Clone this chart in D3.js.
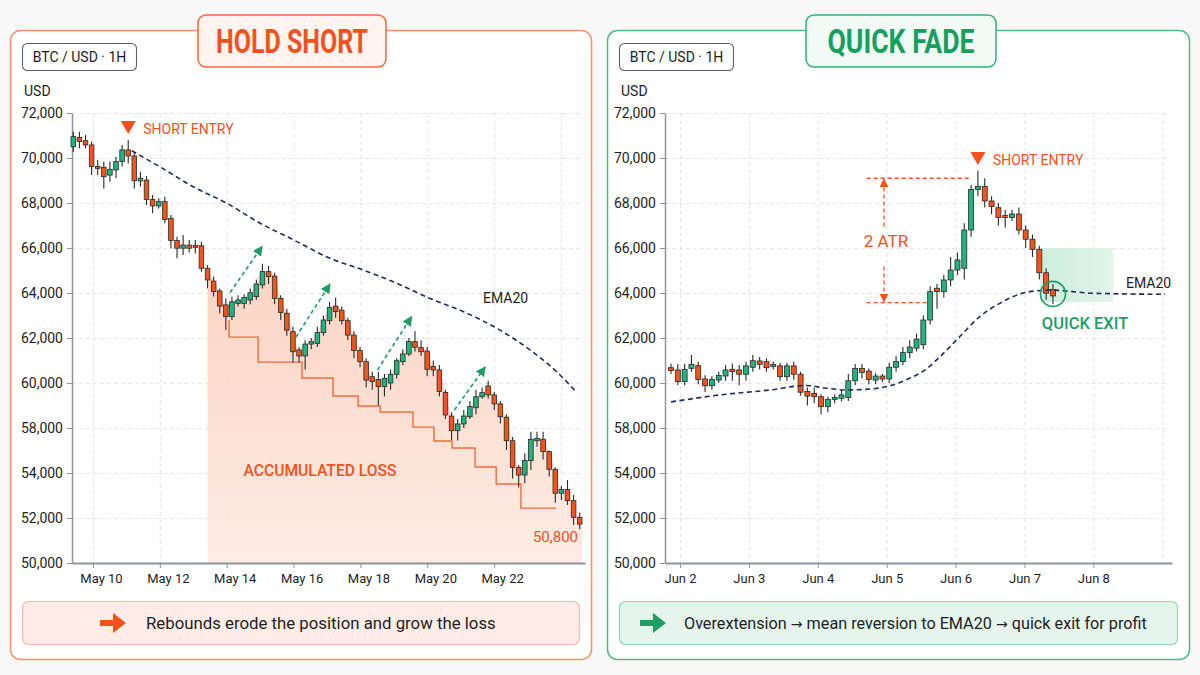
<!DOCTYPE html>
<html><head><meta charset="utf-8">
<script src="https://cdn.jsdelivr.net/npm/d3@7"></script>
<style>
html,body{margin:0;padding:0;background:#f8f8f8;}
svg{display:block;font-family:Roboto,"Noto Sans",sans-serif;}
</style></head><body>
<svg id="c" width="1200" height="675"></svg>
<script>
// ---------------- DATA ----------------
const yTickValues = [72000,70000,68000,66000,64000,62000,60000,58000,54000,52000,50000];
const leftTickDays = [10,12,14,16,18,20,22];
const leftTickLabels = ["May 10","May 12","May 14","May 16","May 18","May 20","May 22"];
const leftGridDays = [10,12,14,16,18,20,22,24];
const rightTickDays = [2,3,4,5,6,7,8];
const rightTickLabels = ["Jun 2","Jun 3","Jun 4","Jun 5","Jun 6","Jun 7","Jun 8"];
const rightGridDays = [2,3,4,5,6,7,8,9];

// bar timing (day of month), bars evenly spaced
const LEFT_START = 9.411, LEFT_STEP = 0.1825;
const RIGHT_START = 1.869, RIGHT_STEP = 0.099;

// [open, high, low, close]
const leftBars = [
[70500,71170,70280,70950],[70920,71170,70430,70730],[70770,71020,70430,70580],[70580,70730,69240,69620],
[69620,69910,69240,69540],[69590,69840,68650,69170],[69240,69840,68950,69500],[69470,70060,69100,69840],
[69840,70580,69620,70360],[70360,70800,69760,70090],[70090,70210,68650,68990],[68980,69390,68730,69100],
[69020,69200,67910,68160],[68160,68360,67540,67870],[67870,68210,67760,68060],[68060,68280,67100,67270],
[67320,67470,65990,66330],[66330,66500,65540,65990],[65990,66580,65690,66130],[66130,66360,65800,65990],
[66120,66360,65760,66030],[66100,66280,64950,65100],[65100,65240,64210,64580],[64530,64730,63840,64060],
[64090,64200,63100,63420],[63470,63760,62360,62950],[62950,63840,62800,63610],[63540,63900,63400,63690],
[63540,63950,63300,63800],[63690,64200,63500,64010],[63840,64600,63700,64400],[64360,65300,64200,64950],
[64950,65200,64400,64730],[64750,64900,63500,63760],[63760,63900,62800,63130],[63100,63300,62100,62350],
[62280,62500,60900,61390],[61470,61600,60900,61200],[61200,61900,60600,61730],[61730,62000,61500,61840],
[61760,62500,61600,62240],[62240,63000,62100,62800],[62770,63600,62600,63360],[63420,63800,62900,63170],
[63240,63400,62600,62770],[62770,62900,61900,62130],[62130,62300,61100,61440],[61440,61600,60700,60950],
[60950,61100,59800,60130],[60280,60500,59700,60060],[60160,60500,59000,59840],[59840,60400,59400,60210],
[60000,60600,59700,60390],[60390,61100,60200,60990],[60950,61500,60800,61290],[61290,62000,61200,61840],
[61840,62300,61400,61590],[61570,61900,61200,61390],[61420,61600,60300,60610],[60730,61000,60300,60580],
[60580,60800,59400,59620],[59580,59700,58400,58580],[58530,58700,56930,57760],[57760,58400,56900,58180],
[58180,58800,58000,58530],[58500,59200,58400,58950],[58900,59700,58600,59390],[59390,59800,59300,59570],
[59870,60100,59300,59470],[59470,59600,58800,59070],[59070,59200,58200,58500],[58480,58600,56040,56870],
[56870,57200,53760,54500],[54500,54710,53360,53910],[53910,55750,53540,55100],[55100,57670,54270,57000],
[56870,57670,56340,57080],[57000,57670,55200,55900],[55900,56000,53840,54330],[54330,54500,52680,53100],
[53100,53420,52800,53270],[53270,53690,52580,52770],[52770,53020,51690,52030],[52030,52240,51500,51730]
];
const rightBars = [
[60680,60870,60400,60550],[60580,60840,59910,60060],[60060,60840,59900,60610],[60650,61250,60500,60830],
[60770,60950,59950,60160],[60180,60350,59600,59880],[59880,60300,59700,60160],[60130,60500,60000,60330],
[60310,60800,60100,60580],[60610,60870,60100,60500],[60580,60800,59900,60390],[60390,60950,60100,60760],
[60700,61250,60500,60990],[60980,61150,60600,60830],[60950,61100,60500,60680],[60730,60950,60600,60830],
[60760,60900,60100,60280],[60280,60900,60100,60760],[60760,60950,60150,60390],[60390,60500,59450,59590],
[59620,59800,59000,59420],[59540,59800,59100,59390],[59390,59500,58600,58950],[58950,59400,58700,59270],
[59270,59500,59100,59360],[59320,59700,59200,59470],[59360,60400,59200,60100],[60100,60850,59900,60650],
[60650,60850,60200,60470],[60530,60650,59950,60160],[60130,60450,59950,60310],[60310,60400,60050,60180],
[60180,60900,60000,60700],[60700,61200,60500,60950],[60950,61600,60800,61350],[61350,61900,61100,61600],
[61550,62200,61400,61950],[61700,63000,61500,62800],[62800,64300,62600,64060],[64210,64400,63300,64060],
[64060,64800,63800,64580],[64580,65600,64300,65020],[65020,65800,64800,65470],[65100,67100,64600,66800],
[66800,68800,66500,68600],[68600,69450,68300,68730],[68730,69100,67800,68090],[68090,68300,67500,67840],
[67790,68000,67000,67360],[67440,67700,66900,67360],[67360,67700,67200,67510],[67510,67800,66600,66800],
[66800,67000,66000,66390],[66390,66600,65600,65940],[65940,66100,64600,64900],[64900,65100,63700,63990],
[64160,64400,63500,63870]
];

// EMA20 [day, value]
const leftEma = [[11.16,70320],[12,69610],[13,68720],[14,67990],[15,67100],[16,66360],[17.09,65540],
[18.09,65020],[19.09,64430],[20.08,63760],[21.08,63170],[22.08,62430],[23.07,61470],[23.87,60500],[24.42,59660]];
const rightEma = [[1.87,59160],[2.58,59470],[3.31,59690],[3.83,59890],[4.1,59780],[4.41,59690],[4.76,59730],
[5.05,59880],[5.34,60220],[5.56,60580],[5.77,61160],[6.06,62060],[6.35,62950],[6.64,63540],[6.94,63960],
[7.18,64100],[7.41,64130],[7.7,64060],[7.99,63990],[9.04,63940]];

// accumulated-loss step line [day, value]
const lossSteps = [[14.07,62800],[14.07,62040],[14.94,60930],[16.25,60220],[17.18,59420],[17.93,58980],
[18.59,58710],[19.57,58040],[20.2,56840],[20.74,56220],[21.43,54530],[22.06,53510],[22.8,52440],[23.85,52440]];
const lossStartBar = 22;
const lossValue = 50800;

// rebound arrows [[day,value],[day,value]]
const reboundArrows = [
 [[14.1,64020],[15.06,66070]],
 [[16.07,62040],[17.09,64400]],
 [[18.51,60580],[19.53,62950]],
 [[20.81,58800],[21.73,60710]]
];
const leftEntryBar = 9;
const rightEntryBar = 45;
const rightExitBar = 56;
const exitValue = 63960;
const atrTop = 69100, atrBottom = 63570;
const atrDays = {x0:4.71, x1Top:6.21, x1Bot:5.59, xArrow:4.96};
const exitZone = {d0:7.23, d1:8.29, v0:63600, v1:66000};

const leftCaption = ["Rebounds erode the position and grow the loss"];
const rightCaption = ["Overextension ", "→", " mean reversion to EMA20 ", "→", " quick exit for profit"];

// ---------------- DRAW ----------------
const svg = d3.select("#c");
const defs = svg.append("defs");
const RED = "#f4511e", GREEN = "#1e9d66", NAVY = "#1f2b5e", INK = "#1e1e24";

function marker(id, color, size){
  defs.append("marker").attr("id",id).attr("viewBox","0 0 10 10").attr("refX",9).attr("refY",5)
    .attr("markerWidth",size).attr("markerHeight",size).attr("markerUnits","userSpaceOnUse")
    .attr("orient","auto-start-reverse")
    .append("path").attr("d","M0,0L10,5L0,10Z").attr("fill",color);
}
marker("mGreen", GREEN, 10);
marker("mRed", RED, 9);

const lg = defs.append("linearGradient").attr("id","lossGrad").attr("x1",0).attr("y1",0).attr("x2",0).attr("y2",1);
lg.append("stop").attr("offset","0%").attr("stop-color","#fbcfbc");
lg.append("stop").attr("offset","100%").attr("stop-color","#fdeae2");
const gg = defs.append("linearGradient").attr("id","exitGrad").attr("x1",0).attr("y1",0).attr("x2",1).attr("y2",0);
gg.append("stop").attr("offset","0%").attr("stop-color","#cdeedc");
gg.append("stop").attr("offset","100%").attr("stop-color","#e2f5ea");

const TOP = 113, BOT = 563;
const y = d3.scaleLinear().domain([50000,54000,58000,72000]).range([BOT,473,428,TOP]);

function panel(cfg){
  const g = svg.append("g");
  // frame
  g.append("rect").attr("x",cfg.fx+0.5).attr("y",30.5).attr("width",cfg.fw).attr("height",629)
    .attr("rx",10).attr("fill","#ffffff").attr("stroke",cfg.frame).attr("stroke-width",1.5);
  // title box
  g.append("rect").attr("x",cfg.tx).attr("y",15).attr("width",cfg.tw).attr("height",52).attr("rx",8)
    .attr("fill",cfg.titleFill).attr("stroke",cfg.titleStroke).attr("stroke-width",1.5);
  g.append("text").attr("x",cfg.tx+cfg.tw/2).attr("y",53).attr("text-anchor","middle")
    .attr("font-size",34).attr("font-weight",700).attr("fill",cfg.titleColor)
    .attr("textLength",cfg.titleLen).attr("lengthAdjust","spacingAndGlyphs").text(cfg.title);
  // symbol box
  g.append("rect").attr("x",cfg.fx+12.5).attr("y",43.5).attr("width",114).attr("height",27).attr("rx",5)
    .attr("fill","#fff").attr("stroke","#5a6172").attr("stroke-width",1.1);
  g.append("text").attr("x",cfg.fx+69.5).attr("y",62).attr("text-anchor","middle").attr("font-size",14)
    .attr("fill",INK).text("BTC / USD · 1H");
  g.append("text").attr("x",cfg.fx+14).attr("y",96).attr("font-size",14).attr("fill",INK).text("USD");

  const x = d3.scaleLinear().domain(cfg.domain).range([cfg.px0,cfg.px1]);
  // grid
  g.append("g").selectAll("line").data(yTickValues.slice(0,-1)).join("line")
    .attr("x1",cfg.px0).attr("x2",cfg.px1-3).attr("y1",d=>y(d)+0.5).attr("y2",d=>y(d)+0.5)
    .attr("stroke","#e4e4e4").attr("stroke-dasharray","4,3");
  g.append("g").selectAll("line").data(cfg.gridDays).join("line")
    .attr("x1",d=>x(d)+0.5).attr("x2",d=>x(d)+0.5).attr("y1",TOP).attr("y2",BOT)
    .attr("stroke","#e4e4e4").attr("stroke-dasharray","4,3");

  cfg.under && cfg.under(g, x);

  // axes
  const ay = g.append("g").attr("transform",`translate(${cfg.px0},0)`)
    .call(d3.axisLeft(y).tickValues(yTickValues).tickFormat(d3.format(",")).tickSize(5).tickSizeOuter(0).tickPadding(4));
  ay.select(".domain").attr("stroke","#8e939c").attr("stroke-width",1.5);
  ay.selectAll(".tick line").attr("stroke","#8e939c");
  ay.selectAll("text").attr("font-size",14).attr("fill",INK).attr("font-family","Roboto,sans-serif");
  const ax = g.append("g").attr("transform",`translate(0,${BOT})`)
    .call(d3.axisBottom(x).tickValues(cfg.tickDays).tickFormat((d,i)=>cfg.tickLabels[i]).tickSize(5).tickSizeOuter(0).tickPadding(6));
  ax.select(".domain").attr("stroke","#8e939c").attr("stroke-width",2.2);
  ax.selectAll(".tick line").attr("stroke","#8e939c");
  ax.selectAll("text").attr("font-size",13).attr("fill",INK).attr("font-family","Roboto,sans-serif").attr("dx",cfg.labelDx);

  // candles
  const bw = cfg.bodyW;
  const cg = g.append("g");
  const bx = i => x(cfg.start + i*cfg.step);
  cg.selectAll("line").data(cfg.bars).join("line")
    .attr("x1",(d,i)=>bx(i)).attr("x2",(d,i)=>bx(i)).attr("y1",d=>y(d[1])).attr("y2",d=>y(d[2]))
    .attr("stroke","#2a2a2a").attr("stroke-width",1.1);
  cg.selectAll("rect").data(cfg.bars).join("rect")
    .attr("x",(d,i)=>bx(i)-bw/2).attr("width",bw)
    .attr("y",d=>y(Math.max(d[0],d[3]))).attr("height",d=>Math.max(1.5,Math.abs(y(d[0])-y(d[3]))))
    .attr("fill",d=>d[3]>=d[0]?"#1fb482":"#f2541b").attr("stroke","#2a2a2a").attr("stroke-width",0.8);

  // EMA
  g.append("path").datum(cfg.ema).attr("fill","none").attr("stroke",NAVY).attr("stroke-width",1.6)
    .attr("stroke-dasharray","5,3.5")
    .attr("d",d3.line().x(d=>x(d[0])).y(d=>y(d[1])).curve(d3.curveMonotoneX));

  cfg.over && cfg.over(g, x, bx);

  // caption
  g.append("rect").attr("x",cfg.fx+12.5).attr("y",601.5).attr("width",cfg.fw-24).attr("height",43).attr("rx",6)
    .attr("fill",cfg.capFill).attr("stroke",cfg.capStroke).attr("stroke-width",1.2);
  const ah = cfg.fx+cfg.arrowX;
  g.append("path").attr("d",`M${ah},620 h13 v-7 l13,10 l-13,10 v-7 h-13 z`).attr("fill",cfg.arrowColor);
  const ct = g.append("text").attr("x",cfg.fx+cfg.capX).attr("y",629).attr("font-size",cfg.capSize).attr("fill",INK);
  ct.selectAll("tspan").data(cfg.caption).join("tspan")
    .attr("font-family",d=>d==="→"?"'DejaVu Sans',sans-serif":null)
    .attr("font-size",d=>d==="→"?cfg.capSize-2:null)
    .text(d=>d);
}

function entryMarker(g, cx, yTop, label){
  g.append("path").attr("d",`M${cx-7.5},${yTop} L${cx+7.5},${yTop} L${cx},${yTop+13} Z`).attr("fill",RED);
  g.append("text").attr("x",cx+15).attr("y",yTop+13).attr("font-size",14).attr("fill",RED).text(label);
}

// LEFT PANEL
panel({
  fx:10, fw:581, tx:198, tw:188, title:"HOLD SHORT", titleLen:152,
  frame:"#f6906f", titleFill:"#fff4ef", titleStroke:"#f4683f", titleColor:RED,
  px0:72, px1:585, domain:[9.372,24.717], gridDays:leftGridDays, tickDays:leftTickDays, tickLabels:leftTickLabels, labelDx:8,
  bars:leftBars, start:LEFT_START, step:LEFT_STEP, bodyW:4.6, ema:leftEma,
  capFill:"#fdede6", capStroke:"#f8bca4", arrowColor:RED, arrowX:90, capX:136, capSize:16.8,
  caption:leftCaption,
  under:(g,x)=>{
    const lossBars = leftBars.map((d,i)=>[LEFT_START+i*LEFT_STEP, Math.max(d[0],d[3])]).slice(lossStartBar);
    lossBars.push([x.domain()[1]-0.08, lossBars[lossBars.length-1][1]]);
    g.append("path").datum(lossBars).attr("fill","url(#lossGrad)").attr("opacity",0.9)
      .attr("d",d3.area().x(d=>x(d[0])).y0(BOT).y1(d=>y(d[1])).curve(d3.curveMonotoneX));
    g.append("path").datum(lossSteps).attr("fill","none").attr("stroke","#f4693f").attr("stroke-width",1.4)
      .attr("d",d3.line().x(d=>x(d[0])).y(d=>y(d[1])).curve(d3.curveStepAfter));
    g.append("text").attr("x",320).attr("y",476).attr("text-anchor","middle").attr("font-size",17)
      .attr("font-weight",500).attr("fill",RED).attr("textLength",153).attr("lengthAdjust","spacingAndGlyphs")
      .text("ACCUMULATED LOSS");
    g.append("text").attr("x",578).attr("y",y(lossValue)-3).attr("text-anchor","end").attr("font-size",15)
      .attr("fill",RED).text(d3.format(",")(lossValue));
  },
  over:(g,x,bx)=>{
    reboundArrows.forEach(a=>{
      g.append("line").attr("x1",x(a[0][0])).attr("y1",y(a[0][1])).attr("x2",x(a[1][0])).attr("y2",y(a[1][1]))
        .attr("stroke",GREEN).attr("stroke-width",1.6).attr("stroke-dasharray","4,3").attr("marker-end","url(#mGreen)");
    });
    g.append("text").attr("x",483).attr("y",303).attr("font-size",14).attr("fill",INK).text("EMA20");
    entryMarker(g, bx(leftEntryBar), 121, "SHORT ENTRY");
  }
});

// RIGHT PANEL
panel({
  fx:607, fw:582, tx:806, tw:190, title:"QUICK FADE", titleLen:147,
  frame:"#4dbb8b", titleFill:"#f1faf5", titleStroke:"#33b078", titleColor:"#17a05c",
  px0:665, px1:1172, domain:[1.7823,9.1408], gridDays:rightGridDays, tickDays:rightTickDays, tickLabels:rightTickLabels, labelDx:0,
  bars:rightBars, start:RIGHT_START, step:RIGHT_STEP, bodyW:5, ema:rightEma,
  capFill:"#e5f5ec", capStroke:"#92d4b3", arrowColor:"#1f9d63", arrowX:33, capX:77, capSize:16.2,
  caption:rightCaption,
  under:(g,x)=>{
    g.append("rect").attr("x",x(exitZone.d0)).attr("y",y(exitZone.v1))
      .attr("width",x(exitZone.d1)-x(exitZone.d0)).attr("height",y(exitZone.v0)-y(exitZone.v1))
      .attr("fill","url(#exitGrad)");
  },
  over:(g,x,bx)=>{
    const ax = x(atrDays.xArrow);
    g.append("line").attr("x1",x(atrDays.x0)).attr("x2",x(atrDays.x1Top)).attr("y1",y(atrTop)).attr("y2",y(atrTop))
      .attr("stroke",RED).attr("stroke-width",1.3).attr("stroke-dasharray","4,3");
    g.append("line").attr("x1",x(atrDays.x0)).attr("x2",x(atrDays.x1Bot)).attr("y1",y(atrBottom)).attr("y2",y(atrBottom))
      .attr("stroke",RED).attr("stroke-width",1.3).attr("stroke-dasharray","4,3");
    const ym = (y(atrTop)+y(atrBottom))/2;
    g.append("line").attr("x1",ax).attr("x2",ax).attr("y1",ym-14).attr("y2",y(atrTop)+1)
      .attr("stroke",RED).attr("stroke-width",1.3).attr("stroke-dasharray","4,3").attr("marker-end","url(#mRed)");
    g.append("line").attr("x1",ax).attr("x2",ax).attr("y1",ym+26).attr("y2",y(atrBottom)-1)
      .attr("stroke",RED).attr("stroke-width",1.3).attr("stroke-dasharray","4,3").attr("marker-end","url(#mRed)");
    g.append("text").attr("x",ax+2).attr("y",ym+7).attr("text-anchor","middle").attr("font-size",17)
      .attr("fill",RED).text("2 ATR");
    entryMarker(g, bx(rightEntryBar), 152, "SHORT ENTRY");
    g.append("circle").attr("cx",bx(rightExitBar)).attr("cy",y(exitValue)).attr("r",12.5)
      .attr("fill","none").attr("stroke",GREEN).attr("stroke-width",1.6);
    g.append("text").attr("x",1085).attr("y",329).attr("text-anchor","middle").attr("font-size",16.5)
      .attr("font-weight",500).attr("fill",GREEN).text("QUICK EXIT");
    g.append("text").attr("x",1126).attr("y",288).attr("font-size",14).attr("fill",INK).text("EMA20");
  }
});
</script>
</body></html>
